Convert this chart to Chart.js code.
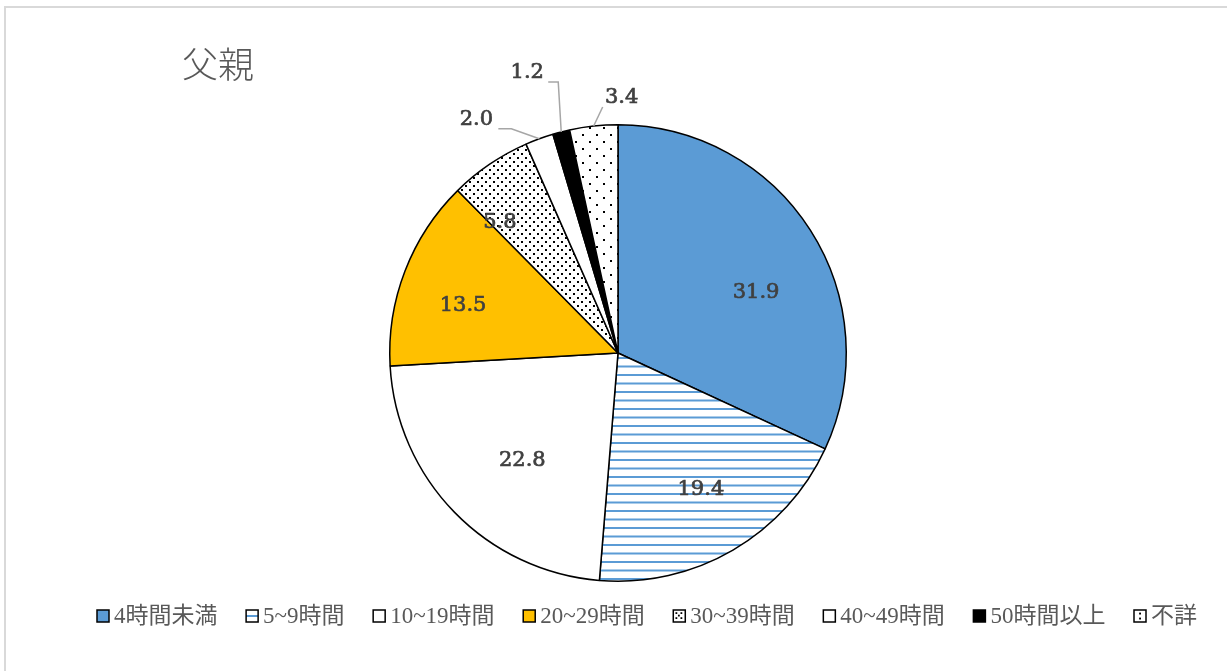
<!DOCTYPE html>
<html><head><meta charset="utf-8">
<script src="https://cdn.jsdelivr.net/npm/chart.js@4"></script>
<style>
html,body{margin:0;padding:0;background:#fff;}
#wrap{position:relative;width:1227px;height:671px;overflow:hidden;background:#fff;}
#frame{position:absolute;left:4px;top:6px;width:1260px;height:720px;border:2px solid #d9d9d9;box-sizing:border-box;}
#c{position:absolute;left:0;top:0;}
</style></head><body>
<div id="wrap"><div id="frame"></div><canvas id="c" width="1227" height="671"></canvas></div>
<script>
const chartTitle = '父親';
const categories = ['4時間未満','5~9時間','10~19時間','20~29時間','30~39時間','40~49時間','50時間以上','不詳'];
const values = [31.9, 19.4, 22.8, 13.5, 5.8, 2.0, 1.2, 3.4];
const fillTypes = ['solid','stripe','white','solid','dense','white','solid','sparse'];
const solidColors = ['#5B9BD5', null, '#FFFFFF', '#FFC000', null, '#FFFFFF', '#000000', null];

function makePattern(type){
  const c = document.createElement('canvas');
  const x = c.getContext('2d');
  if(type==='stripe'){
    c.width=4; c.height=17;
    x.fillStyle='#fff'; x.fillRect(0,0,4,17);
    x.fillStyle='#5B9BD5'; x.fillRect(0,0,4,2); x.fillRect(0,8.5,4,2);
  } else if(type==='dense'){
    c.width=8; c.height=8;
    x.fillStyle='#fff'; x.fillRect(0,0,8,8);
    x.fillStyle='#000'; x.fillRect(1,1,2,2); x.fillRect(5,5,2,2);
  } else {
    c.width=14; c.height=14;
    x.fillStyle='#fff'; x.fillRect(0,0,14,14);
    x.fillStyle='#000'; x.fillRect(1,1,2,2); x.fillRect(8,8,2,2);
  }
  const ctx = document.getElementById('c').getContext('2d');
  return ctx.createPattern(c,'repeat');
}
const fills = fillTypes.map((t,i)=> t==='solid' || t==='white' ? solidColors[i] : makePattern(t));

// label placement tweaks (angle offset in degrees, radial fraction)
const inside = {0:{da:9,f:0.66},1:{da:-1,f:0.70},2:{da:-4,f:0.63},3:{da:-4,f:0.71},4:{da:-8,f:0.77}};
const outside = {
  5:{text:[-63,-19], path:[[0,0],[-28,-10],[-41,-10]]},
  6:{text:[-34,-59], path:[[0,0],[-3,-50],[-13,-50]]},
  7:{text:[28,-29], path:[[0,0],[9,-19]]}
};

const drawPlugin = {
  id:'custom',
  afterDatasetsDraw(chart){
    const ctx = chart.ctx;
    const meta = chart.getDatasetMeta(0);
    ctx.save();
    ctx.font = '21px "DejaVu Serif", "Liberation Serif", serif';
    ctx.fillStyle = '#404040';
    ctx.strokeStyle = '#404040';
    ctx.textAlign='center'; ctx.textBaseline='middle';
    meta.data.forEach((arc,i)=>{
      const p = arc.getProps(['x','y','startAngle','endAngle','outerRadius'], true);
      const mid = (p.startAngle+p.endAngle)/2;
      const txt = values[i].toFixed(1);
      let tx, ty;
      if(inside[i]){
        const a = mid + inside[i].da*Math.PI/180;
        const r = p.outerRadius*inside[i].f;
        tx = p.x+Math.cos(a)*r; ty = p.y+Math.sin(a)*r;
      } else if(outside[i]){
        const ex = p.x+Math.cos(mid)*p.outerRadius, ey = p.y+Math.sin(mid)*p.outerRadius;
        const o = outside[i];
        ctx.save();
        ctx.strokeStyle='#A6A6A6'; ctx.lineWidth=1.5;
        ctx.beginPath();
        o.path.forEach((q,k)=>{ if(k===0) ctx.moveTo(ex+q[0],ey+q[1]); else ctx.lineTo(ex+q[0],ey+q[1]); });
        ctx.stroke();
        ctx.restore();
        tx = ex+o.text[0]; ty = ey+o.text[1];
      }
      ctx.lineWidth = 0.7;
      ctx.fillText(txt, tx, ty);
      ctx.strokeText(txt, tx, ty);
    });
    ctx.restore();
  },
  afterDraw(chart){
    const ctx = chart.ctx;
    ctx.save();
    // title
    ctx.font = '300 36px "Noto Sans CJK JP", sans-serif';
    ctx.fillStyle = '#595959';
    ctx.textAlign='left'; ctx.textBaseline='alphabetic';
    ctx.fillText(chartTitle, 182, 78);
    // legend
    ctx.font = '23px "Liberation Serif", "Noto Sans CJK JP", serif';
    ctx.textBaseline='middle';
    const box=12, bgap=5, left=97, right=1197, cy=616;
    const widths = categories.map(t=>ctx.measureText(t).width);
    const used = widths.reduce((a,b)=>a+b,0) + categories.length*(box+bgap);
    const gap = (right-left-used)/(categories.length-1);
    let x = left;
    categories.forEach((t,i)=>{
      const bx=x, by=cy-box/2;
      const type = fillTypes[i];
      ctx.fillStyle = (type==='solid'||type==='white') ? solidColors[i] : '#fff';
      ctx.fillRect(bx,by,box,box);
      if(type==='stripe'){ ctx.fillStyle='#5B9BD5'; ctx.fillRect(bx,cy-1,box,2); }
      if(type==='dense'){ ctx.fillStyle='#000'; [[3,3],[8,3],[5.5,5.5],[3,8],[8,8]].forEach(d=>ctx.fillRect(bx+d[0]-0.8,by+d[1]-0.8,1.8,1.8)); }
      if(type==='sparse'){ ctx.fillStyle='#000'; [[6,3.5],[6,8.5]].forEach(d=>ctx.fillRect(bx+d[0]-0.9,by+d[1]-0.9,1.9,1.9)); }
      ctx.strokeStyle='#000'; ctx.lineWidth=1.5;
      ctx.strokeRect(bx,by,box,box);
      ctx.fillStyle='#595959';
      ctx.fillText(t, bx+box+bgap, cy+1);
      x += box+bgap+widths[i]+gap;
    });
    ctx.restore();
  }
};

new Chart(document.getElementById('c'), {
  type:'pie',
  data:{labels:categories, datasets:[{data:values, backgroundColor:fills, borderColor:'#000000', borderWidth:1.5}]},
  options:{
    responsive:false, animation:false, rotation:0,
    layout:{padding:{top:124, bottom:89, left:9, right:0}},
    plugins:{legend:{display:false}, tooltip:{enabled:false}, title:{display:false}}
  },
  plugins:[drawPlugin]
});
</script>
</body></html>
